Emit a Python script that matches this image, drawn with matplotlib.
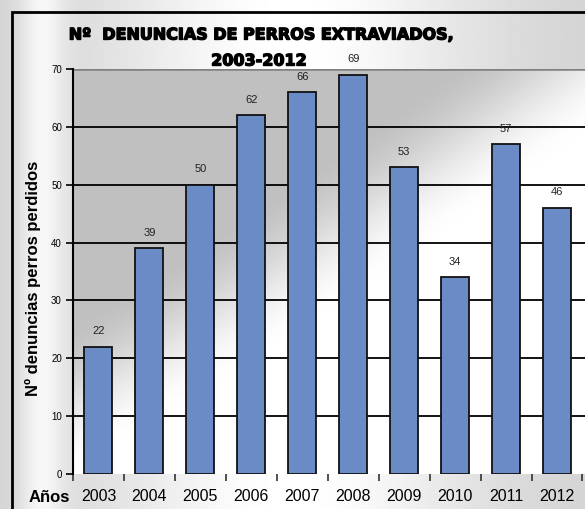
import numpy as np
import matplotlib
matplotlib.use('Agg')
import matplotlib.pyplot as plt
import matplotlib.patheffects as pe
from matplotlib.patches import Rectangle
from matplotlib.colors import LinearSegmentedColormap

years = ['2003', '2004', '2005', '2006', '2007', '2008', '2009', '2010', '2011', '2012']
denuncias = [22, 39, 50, 62, 66, 69, 53, 34, 57, 46]
y_ticks = [0, 10, 20, 30, 40, 50, 60, 70]

W, H = 585, 509
fig = plt.figure(figsize=(W / 100, H / 100), dpi=100)

# figure background: soft grey with a lighter sheen
bg = fig.add_axes([0, 0, 1, 1], zorder=-10)
gx, gy = np.meshgrid(np.linspace(0, 1, 200), np.linspace(0, 1, 200))
sheen = 0.82 + 0.18 * np.exp(-((gx - 0.5) ** 2) / 0.10)
sheen = np.minimum(sheen + 0.12 * np.exp(-((gx - 0.07) ** 2) / 0.0015), 1.0)
bg.imshow(sheen, cmap='gray', vmin=0, vmax=1, extent=[0, 1, 0, 1],
          aspect='auto', origin='lower')
bg.add_patch(Rectangle((12 / W, -0.1), 1.2, 1 - 12 / H + 0.1, fill=False,
                       edgecolor='black', linewidth=2.0, transform=bg.transAxes))
bg.set_xlim(0, 1)
bg.set_ylim(0, 1)
bg.axis('off')

left, top, bottom = 73, 69, 474
ax = fig.add_axes([left / W, 1 - bottom / H, 1 - left / W, (bottom - top) / H])

# plot area gradient: grey top-left fading to white bottom-right
px, depth = np.meshgrid(np.linspace(0, 1, 300), np.linspace(0, 1, 300))
s = depth + 0.75 * px + 0.1 * px * (1 - depth)
grad = np.clip((s - 0.62) / 0.38, 0, 1)
grad = grad * grad * (3 - 2 * grad)
cmap = LinearSegmentedColormap.from_list('pa', ['#c0c0c0', '#ffffff'])
ax.imshow(grad, cmap=cmap, vmin=0, vmax=1, extent=[-0.5, 9.55, 0, 70],
          aspect='auto', origin='upper', zorder=0)

x = np.arange(len(years))
ax.bar(x, denuncias, width=0.55, color='#6a8bc6', edgecolor='#111111',
       linewidth=1.3, zorder=3)
for xi, v in zip(x, denuncias):
    ax.text(xi, v + 1.8, str(v), ha='center', va='bottom', fontsize=8,
            family='Liberation Sans', color='#222222', zorder=4)

ax.set_xlim(-0.5, 9.55)
ax.set_ylim(0, 70)
ax.set_yticks(y_ticks)
ax.set_yticklabels([str(t) for t in y_ticks], fontsize=7, family='Liberation Sans')
for t in y_ticks[1:-1]:
    ax.axhline(t, color='black', linewidth=1.3, zorder=1)
ax.axhline(70, color='#808080', linewidth=1.8, zorder=1)

ax.set_xticks(np.arange(-0.5, 9.6, 1.0))
ax.set_xticklabels([])
ax.set_xticks(x, minor=True)
ax.set_xticklabels(years, minor=True, fontsize=11.5, family='Liberation Sans')
ax.tick_params(axis='x', which='minor', length=0, pad=11)
ax.tick_params(axis='x', which='major', length=5, width=1.2, color='#333333')
ax.tick_params(axis='y', length=5, width=1.2, pad=3)

for side in ['top', 'right', 'bottom']:
    ax.spines[side].set_visible(False)
ax.spines['left'].set_linewidth(1.5)

fig.text(33 / W, 1 - 278 / H, 'Nº denuncias perros perdidos', fontsize=12,
         fontweight='bold', family='Liberation Sans', rotation=90,
         ha='center', va='center')
fig.text(29 / W, 1 - 497 / H, 'Años', fontsize=12, fontweight='bold',
         family='Liberation Sans', va='center', ha='left')

thick = [pe.withStroke(linewidth=1.0, foreground='black')]
fig.text(262 / W, 1 - 35 / H, 'Nº  DENUNCIAS DE PERROS EXTRAVIADOS,',
         fontsize=11.5, fontweight='bold', family='DejaVu Sans',
         ha='center', va='center', path_effects=thick)
fig.text(259 / W, 1 - 61 / H, '2003-2012', fontsize=11.5, fontweight='bold',
         family='DejaVu Sans', ha='center', va='center', path_effects=thick)

fig.savefig('out.png', dpi=100)
